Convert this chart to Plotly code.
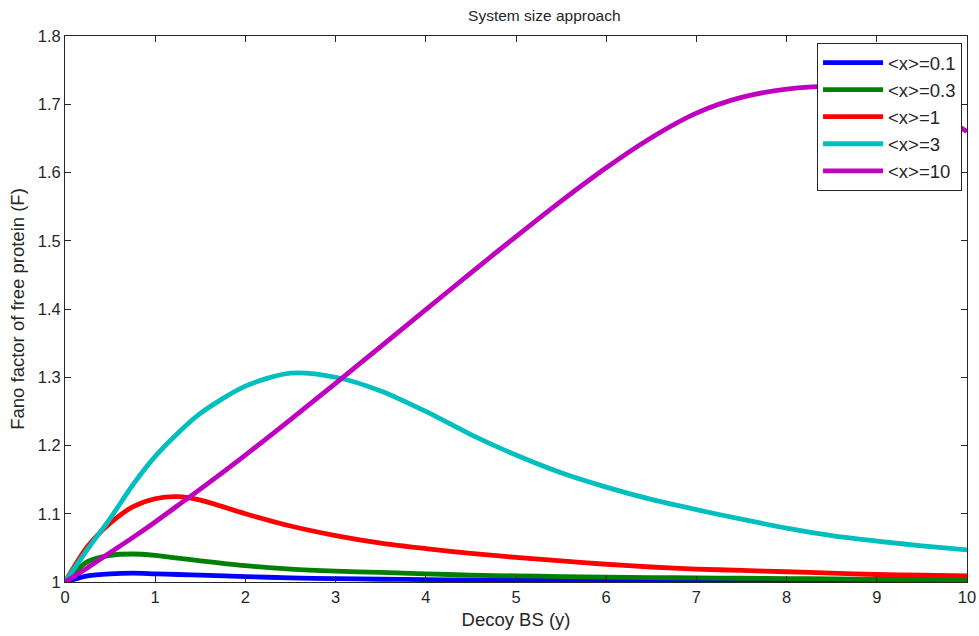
import plotly.graph_objects as go

# Decoy binding sites (y)
y_decoy = [0, 0.25, 0.5, 0.75, 1, 1.25, 1.5, 2, 2.5, 3, 3.5, 4, 4.5, 5, 5.5, 6, 6.5, 7, 7.5, 8, 8.5, 9, 9.5, 10]

fano_x01 = [1.000, 1.009, 1.012, 1.013, 1.012, 1.011, 1.010, 1.008, 1.006, 1.005, 1.004, 1.0035, 1.003,
            1.0025, 1.0022, 1.002, 1.0018, 1.0016, 1.0014, 1.0013, 1.0012, 1.0011, 1.001, 1.001]
fano_x03 = [1.000, 1.030, 1.039, 1.041, 1.039, 1.035, 1.031, 1.024, 1.019, 1.016, 1.014, 1.012, 1.010,
            1.009, 1.008, 1.007, 1.0065, 1.006, 1.0055, 1.005, 1.0045, 1.004, 1.0037, 1.0035]
fano_x1 = [1.000, 1.052, 1.086, 1.110, 1.122, 1.125, 1.120, 1.100, 1.082, 1.068, 1.057, 1.049, 1.042,
           1.036, 1.031, 1.026, 1.022, 1.019, 1.017, 1.015, 1.013, 1.011, 1.010, 1.009]
fano_x3 = [1.000, 1.048, 1.093, 1.142, 1.184, 1.218, 1.247, 1.287, 1.306, 1.300, 1.280, 1.250, 1.216,
           1.186, 1.160, 1.139, 1.121, 1.106, 1.092, 1.079, 1.068, 1.060, 1.053, 1.047]
fano_x10 = [1.000, 1.021, 1.043, 1.065, 1.088, 1.112, 1.136, 1.186, 1.238, 1.291, 1.345, 1.399, 1.453,
            1.506, 1.558, 1.607, 1.651, 1.687, 1.710, 1.722, 1.726, 1.718, 1.697, 1.660]

series_names = ["<x>=0.1", "<x>=0.3", "<x>=1", "<x>=3", "<x>=10"]
series_vals = [fano_x01, fano_x03, fano_x1, fano_x3, fano_x10]
colors = ["#0000FF", "#008000", "#FF0000", "#00BFBF", "#BF00BF"]

x_ticks = [0, 1, 2, 3, 4, 5, 6, 7, 8, 9, 10]
y_ticks = [1, 1.1, 1.2, 1.3, 1.4, 1.5, 1.6, 1.7, 1.8]
y_tick_labels = ["1", "1.1", "1.2", "1.3", "1.4", "1.5", "1.6", "1.7", "1.8"]

fig = go.Figure()
for name, vals, c in zip(series_names, series_vals, colors):
    fig.add_trace(go.Scatter(x=y_decoy, y=vals, mode="lines", name=name,
                             line=dict(color=c, width=4.8, shape="spline", smoothing=0.8)))

font = "Liberation Sans, Arial, sans-serif"
txt = "#262626"
axis_common = dict(showgrid=False, zeroline=False, showline=True, linecolor=txt, linewidth=1,
                   mirror="ticks", ticks="inside", ticklen=6, tickcolor=txt, automargin=False,
                   tickfont=dict(family=font, size=16.5, color=txt))

fig.update_layout(
    width=979, height=636,
    paper_bgcolor="white", plot_bgcolor="white",
    margin=dict(l=65, r=12, t=36, b=54),
    title=dict(text="System size approach", x=0.556, xanchor="center", y=0.975, yanchor="middle",
               font=dict(family=font, size=15.5, color=txt)),
    xaxis=dict(range=[0, 10], tickvals=x_ticks,
               title=dict(text="Decoy BS (y)", font=dict(family=font, size=18.5, color=txt), standoff=8),
               **axis_common),
    yaxis=dict(range=[1, 1.8], tickvals=y_ticks, ticktext=y_tick_labels,
               title=dict(text="Fano factor of free protein (F)", font=dict(family=font, size=18.5, color=txt), standoff=8),
               **axis_common),
    legend=dict(x=0.9945, xanchor="right", y=0.987, yanchor="top",
                bgcolor="white", bordercolor=txt, borderwidth=1,
                font=dict(family=font, size=18.5, color=txt),
                itemwidth=60, tracegroupgap=0),
    showlegend=True,
)

fig.write_html("out.html")
